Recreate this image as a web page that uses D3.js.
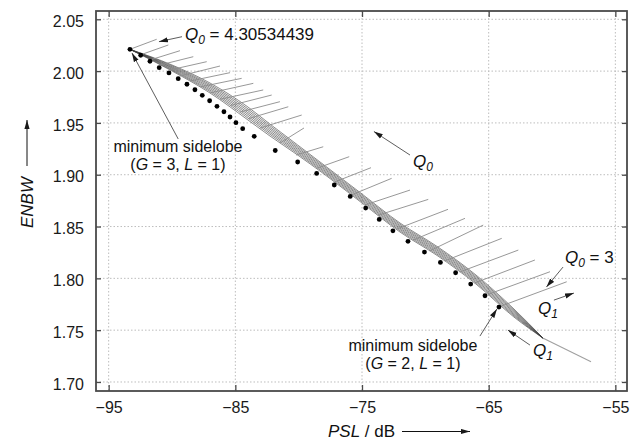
<!DOCTYPE html>
<html>
<head>
<meta charset="utf-8">
<script src="https://cdn.jsdelivr.net/npm/d3@7"></script>
<style>
  html, body { margin: 0; padding: 0; background: #fff; }
  svg { display: block; font-family: "Liberation Sans", Arial, sans-serif; }
</style>
</head>
<body>
<div id="chart"></div>
<script>
(function() {
  'use strict';

const W = 642;
const H = 443;
const LEFT = 96, RIGHT = 627, TOP = 11, BOTTOM = 391;

const xTicks = [-95, -85, -75, -65, -55];
const yTicks = [1.70, 1.75, 1.80, 1.85, 1.90, 1.95, 2.00, 2.05];

// minimum sidelobe points
const dotX = [-93.32, -92.47, -91.74, -91.01, -90.24, -89.51, -88.82, -88.19, -87.61, -87.03,
              -86.45, -85.90, -85.42, -84.95, -84.42, -83.51, -81.85, -80.08, -78.58, -77.19,
              -75.93, -74.71, -73.64, -72.56, -71.37, -70.07, -68.81, -67.61, -66.42, -65.29, -64.19];
const dotY = [2.0210, 2.0153, 2.0095, 2.0033, 1.9982, 1.9927, 1.9873, 1.9820, 1.9766, 1.9714,
              1.9660, 1.9608, 1.9557, 1.9502, 1.9444, 1.9371, 1.9234, 1.9123, 1.9013, 1.8901,
              1.8791, 1.8678, 1.8569, 1.8459, 1.8357, 1.8254, 1.8154, 1.8054, 1.7945, 1.7832, 1.7723];

// bundle of curves (Q1 fixed, Q0 running)
const bundleX = [-93.32, -90.0, -87.0, -84.0, -82.27, -80.08, -78.0, -75.0, -72.0, -69.0, -66.0, -63.0, -60.69];
const bundleY = [
  [2.0210, 2.0059, 1.9885, 1.9653, 1.9489, 1.9287, 1.9094, 1.8814, 1.8534, 1.8302, 1.8032, 1.7704, 1.7421],
  [2.0210, 2.0051, 1.9871, 1.9635, 1.9473, 1.9273, 1.9082, 1.8802, 1.8522, 1.8290, 1.8020, 1.7693, 1.7421],
  [2.0210, 2.0042, 1.9858, 1.9617, 1.9456, 1.9259, 1.9069, 1.8789, 1.8509, 1.8277, 1.8007, 1.7682, 1.7421],
  [2.0210, 2.0034, 1.9844, 1.9599, 1.9440, 1.9245, 1.9057, 1.8777, 1.8497, 1.8265, 1.7995, 1.7671, 1.7421],
  [2.0210, 2.0026, 1.9830, 1.9582, 1.9423, 1.9231, 1.9044, 1.8764, 1.8484, 1.8252, 1.7982, 1.7659, 1.7421],
  [2.0210, 2.0017, 1.9816, 1.9564, 1.9407, 1.9218, 1.9032, 1.8752, 1.8472, 1.8240, 1.7970, 1.7648, 1.7421],
  [2.0210, 2.0009, 1.9803, 1.9546, 1.9391, 1.9204, 1.9019, 1.8739, 1.8459, 1.8227, 1.7957, 1.7637, 1.7421],
  [2.0210, 2.0001, 1.9789, 1.9528, 1.9374, 1.9190, 1.9007, 1.8727, 1.8447, 1.8215, 1.7945, 1.7626, 1.7421]
];
const tailX = [-60.69, -56.92];
const tailY = [1.7421, 1.7195];

// short curves (Q0 fixed, Q1 running)
const hairStartX = [-93.32, -92.53, -91.74, -90.95, -90.16, -89.37, -88.58, -87.79, -87.00, -86.21,
                    -85.42, -84.63, -84.00, -83.06, -81.48, -80.21, -78.63, -77.16, -75.85, -74.79,
                    -73.74, -72.30, -70.98, -69.66, -68.47, -67.29, -66.11, -65.06, -64.01];
const hairStartY = [2.0210, 2.0155, 2.0107, 2.0059, 2.0011, 1.9953, 1.9904, 1.9847, 1.9789, 1.9728,
                    1.9667, 1.9605, 1.9540, 1.9450, 1.9306, 1.9190, 1.9060, 1.8930, 1.8804, 1.8707,
                    1.8609, 1.8474, 1.8368, 1.8265, 1.8168, 1.8061, 1.7955, 1.7845, 1.7733];
const hairEndX = [-91.21, -90.29, -89.37, -88.32, -87.26, -86.21, -85.42, -84.50, -83.58, -82.80,
                  -82.13, -81.48, -80.82, -79.76, -79.58, -78.06, -76.01, -74.29, -72.66, -71.21,
                  -69.77, -68.21, -66.87, -65.43, -63.97, -62.66, -61.35, -60.16, -58.84];
const hairEndY = [2.0307, 2.0252, 2.0197, 2.0139, 2.0091, 2.0049, 1.9985, 1.9930, 1.9882, 1.9818,
                  1.9769, 1.9705, 1.9656, 1.9576, 1.9451, 1.9270, 1.9174, 1.9068, 1.8965, 1.8852,
                  1.8762, 1.8666, 1.8579, 1.8514, 1.8386, 1.8273, 1.8177, 1.8064, 1.7967];

drawChart();

function drawChart() {
  const x = d3.scaleLinear().domain([-96.0, -54.08]).range([LEFT, RIGHT]);
  const y = d3.scaleLinear().domain([1.6913, 2.058]).range([BOTTOM, TOP]);

  const svg = d3.select('#chart')
    .append('svg')
      .attr('width', W)
      .attr('height', H);

  svg.append('defs').append('marker')
      .attr('id', 'head')
      .attr('viewBox', '0 -3 9 6')
      .attr('refX', 9)
      .attr('refY', 0)
      .attr('markerUnits', 'userSpaceOnUse')
      .attr('markerWidth', 9)
      .attr('markerHeight', 6)
      .attr('orient', 'auto')
    .append('path')
      .attr('d', 'M0,-2.6L9,0L0,2.6Z')
      .attr('fill', '#1a1a1a');

  // grid
  const grid = svg.append('g').attr('stroke', '#bdbdbd').attr('stroke-width', 1).attr('stroke-dasharray', '1.5,2');
  grid.selectAll('.gx').data(xTicks).enter().append('line')
    .attr('x1', d => x(d)).attr('x2', d => x(d)).attr('y1', TOP).attr('y2', BOTTOM);
  grid.selectAll('.gy').data(yTicks).enter().append('line')
    .attr('x1', LEFT).attr('x2', RIGHT).attr('y1', d => y(d)).attr('y2', d => y(d));

  // axes (inward ticks)
  const fmtX = d3.format('d');
  const fmtY = d3.format('.2f');
  const xAxis = svg.append('g').attr('transform', `translate(0,${BOTTOM})`)
    .call(d3.axisBottom(x).tickValues(xTicks).tickSize(-6).tickPadding(10.5).tickFormat(fmtX));
  const yAxis = svg.append('g').attr('transform', `translate(${LEFT},0)`)
    .call(d3.axisLeft(y).tickValues(yTicks).tickSize(-5).tickPadding(12).tickFormat(fmtY));
  const xTop = svg.append('g').attr('transform', `translate(0,${TOP})`)
    .call(d3.axisTop(x).tickValues(xTicks).tickSize(-6).tickFormat(''));
  const yRight = svg.append('g').attr('transform', `translate(${RIGHT},0)`)
    .call(d3.axisRight(y).tickValues(yTicks).tickSize(-5).tickFormat(''));
  [xAxis, yAxis, xTop, yRight].forEach(a => {
    a.select('.domain').remove();
    a.selectAll('.tick line').attr('stroke', '#4a4a4a').attr('stroke-width', 1.3);
    a.selectAll('text').attr('font-size', 16).attr('fill', '#1a1a1a')
      .attr('font-family', '"Liberation Sans", Arial, sans-serif');
  });
  yAxis.selectAll('text').attr('dy', '0.45em');

  // bundle
  const line = d3.line().x(d => x(d[0])).y(d => y(d[1])).curve(d3.curveMonotoneX);
  svg.append('g').selectAll('path').data(bundleY).enter().append('path')
    .attr('d', ys => line(ys.map((v, i) => [bundleX[i], v])))
    .attr('fill', 'none')
    .attr('stroke', '#3a3a3a')
    .attr('stroke-width', 0.6);

  svg.append('path')
    .attr('d', line(tailX.map((v, i) => [v, tailY[i]])))
    .attr('fill', 'none')
    .attr('stroke', '#a0a0a0')
    .attr('stroke-width', 1.1);

  // hairs
  svg.append('g').selectAll('line').data(hairStartX).enter().append('line')
    .attr('x1', (d, i) => x(d))
    .attr('y1', (d, i) => y(hairStartY[i]))
    .attr('x2', (d, i) => x(hairEndX[i]))
    .attr('y2', (d, i) => y(hairEndY[i]))
    .attr('stroke', '#8c8c8c')
    .attr('stroke-width', 0.9);

  // dots
  svg.append('g').selectAll('circle').data(dotX).enter().append('circle')
    .attr('cx', d => x(d))
    .attr('cy', (d, i) => y(dotY[i]))
    .attr('r', 2.4)
    .attr('fill', '#000');

  // frame
  svg.append('rect')
    .attr('x', LEFT).attr('y', TOP)
    .attr('width', RIGHT - LEFT).attr('height', BOTTOM - TOP)
    .attr('fill', 'none')
    .attr('stroke', '#4a4a4a')
    .attr('stroke-width', 1.8);

  // annotations
  const ann = svg.append('g').attr('fill', '#111');

  function arrow(x1, y1, x2, y2) {
    ann.append('line')
      .attr('x1', x(x1)).attr('y1', y(y1))
      .attr('x2', x(x2)).attr('y2', y(y2))
      .attr('stroke', '#333')
      .attr('stroke-width', 0.8)
      .attr('marker-end', 'url(#head)');
  }

  // lines: array of lines, each an array of [text, italic, subscript]
  function label(px, py, lines, anchor, size) {
    const t = ann.append('text')
      .attr('x', px).attr('y', py)
      .attr('font-size', size || 17)
      .attr('text-anchor', anchor || 'start');
    let low = false;
    lines.forEach((parts, li) => {
      parts.forEach((p, pi) => {
        const s = t.append('tspan').text(p[0]);
        let dy = 0;
        if (li > 0 && pi === 0) { s.attr('x', px); dy += 18; }
        if (p[1]) s.attr('font-style', 'italic');
        if (p[2]) {
          s.attr('font-size', 12);
          if (!low) { dy += 4; low = true; }
        } else if (low) {
          dy -= 4; low = false;
        }
        if (dy) s.attr('dy', dy);
      });
    });
  }

  label(x(-88.98), y(2.0300), [[['Q', 1], ['0', 1, 1], [' = 4.30534439']]]);
  arrow(-89.21, 2.0332, -91.03, 2.0284);

  label(x(-89.53), y(1.9219), [[['minimum sidelobe']], [['('], ['G', 1], [' = 3, '], ['L', 1], [' = 1)']]], 'middle', 16);
  arrow(-89.51, 1.9345, -93.16, 2.0175);

  label(x(-70.98), y(1.9075), [[['Q', 1], ['0', 1, 1]]]);
  arrow(-71.21, 1.9190, -74.06, 1.9417);

  label(x(-58.98), y(1.8148), [[['Q', 1], ['0', 1, 1], [' = 3']]]);
  arrow(-59.13, 1.8109, -60.44, 1.7916);

  label(x(-61.11), y(1.7656), [[['Q', 1], ['1', 1, 1]]]);
  arrow(-59.85, 1.7790, -58.27, 1.7858);

  label(x(-61.50), y(1.7250), [[['Q', 1], ['1', 1, 1]]]);
  arrow(-61.74, 1.7356, -63.48, 1.7501);

  label(x(-70.98), y(1.7298), [[['minimum sidelobe']], [['('], ['G', 1], [' = 2, '], ['L', 1], [' = 1)']]], 'middle', 16);
  arrow(-65.69, 1.7443, -64.35, 1.7704);

  // axis titles
  svg.append('text')
    .attr('transform', 'translate(33,228) rotate(-90)')
    .attr('font-size', 17)
    .attr('font-style', 'italic')
    .attr('fill', '#111')
    .text('ENBW');
  svg.append('line')
    .attr('x1', 27).attr('y1', 166).attr('x2', 27).attr('y2', 120)
    .attr('stroke', '#111').attr('stroke-width', 1)
    .attr('marker-end', 'url(#head)');

  const xl = svg.append('text')
    .attr('x', 328).attr('y', 437)
    .attr('font-size', 17)
    .attr('fill', '#111');
  xl.append('tspan').attr('font-style', 'italic').text('PSL');
  xl.append('tspan').text(' / dB');
  svg.append('line')
    .attr('x1', 402).attr('y1', 431.5).attr('x2', 470).attr('y2', 431.5)
    .attr('stroke', '#111').attr('stroke-width', 1)
    .attr('marker-end', 'url(#head)');
}

})();
</script>
</body>
</html>
